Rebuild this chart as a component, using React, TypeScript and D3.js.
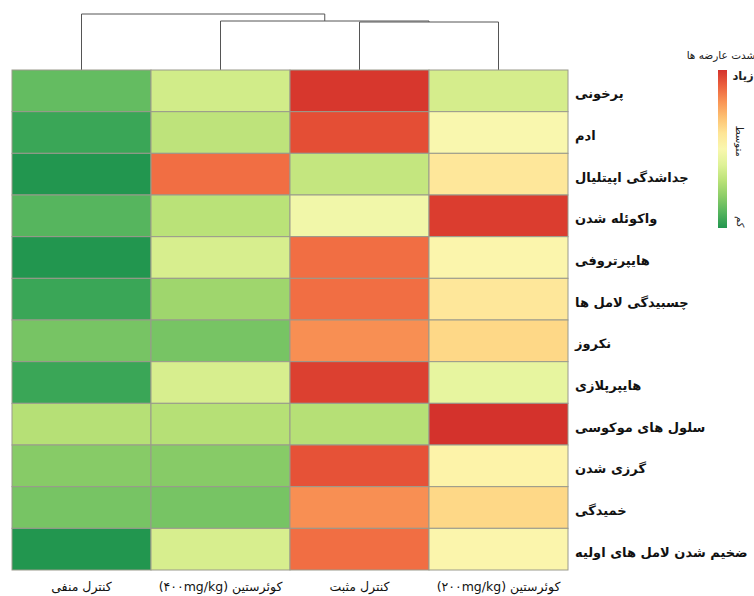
import React from 'react';
import * as d3 from 'd3';

// column / row labels
const colLabels = ['کنترل منفی', 'کوئرستین (۴۰۰mg/kg)', 'کنترل مثبت', 'کوئرستین (۲۰۰mg/kg)'];
const rowLabels = [
    'پرخونی',
    'ادم',
    'جداشدگی اپیتلیال',
    'واکوئله شدن',
    'هایپرتروفی',
    'چسبیدگی لامل ها',
    'نکروز',
    'هایپرپلازی',
    'سلول های موکوسی',
    'گرزی شدن',
    'خمیدگی',
    'ضخیم شدن لامل های اولیه',
];

// severity per column (0 = کم, 1 = زیاد), same order as rowLabels
const negControl = [0.125, 0.05, 0.0, 0.1, 0.0, 0.05, 0.16, 0.05, 0.29, 0.19, 0.16, 0.0];
const quercetin400 = [0.36, 0.31, 0.875, 0.3, 0.375, 0.24, 0.16, 0.375, 0.29, 0.19, 0.16, 0.375];
const posControl = [0.99, 0.94, 0.325, 0.46, 0.875, 0.875, 0.81, 0.97, 0.29, 0.93, 0.81, 0.875];
const quercetin200 = [0.37, 0.5, 0.59, 0.975, 0.525, 0.59, 0.64, 0.425, 1.0, 0.54, 0.64, 0.525];

// dendrogram merge heights: (col3,col4), (col2,[3,4]), (col1,rest)
const mergeHeights = [4.8, 4.9, 5.6];

const legendTitle = 'شدت عارضه ها';
const legendLabels = ['زیاد', 'متوسط', 'کم'];

const W = 754;
const H = 596;
const AR = 'DejaVu Sans, sans-serif';

export default function App() {
    const columns = [negControl, quercetin400, posControl, quercetin200];

    const x = d3.scaleBand<number>().domain(d3.range(colLabels.length)).range([12, 568]);
    const y = d3.scaleBand<number>().domain(d3.range(rowLabels.length)).range([70, 570]);
    const color = (v: number) => d3.interpolateRdYlGn(0.9 - 0.8 * v);
    const hy = d3.scaleLinear().domain([0, mergeHeights[2]]).range([70, 14]);

    const cx = (i: number) => x(i)! + x.bandwidth() / 2;

    // dendrogram segments
    const c34 = (cx(2) + cx(3)) / 2;
    const c234 = (cx(1) + c34) / 2;
    const links = [
        // (3,4)
        { pts: [[cx(2), hy(0)], [cx(2), hy(mergeHeights[0])], [cx(3), hy(mergeHeights[0])], [cx(3), hy(0)]] },
        // (2,(3,4))
        { pts: [[cx(1), hy(0)], [cx(1), hy(mergeHeights[1])], [c34, hy(mergeHeights[1])], [c34, hy(mergeHeights[0])]] },
        // (1,(2,3,4))
        { pts: [[cx(0), hy(0)], [cx(0), hy(mergeHeights[2])], [c234, hy(mergeHeights[2])], [c234, hy(mergeHeights[1])]] },
    ];
    const line = d3.line();

    // legend bar
    const ly = d3.scaleLinear().domain([1, 0]).range([70, 228]);
    const stops = d3.range(0, 1.0001, 0.1);

    return (
        <svg width={W} height={H} style={{ position: 'absolute', left: 0, top: 0, background: '#fff' }}>
            <defs>
                <linearGradient id="legendGrad" x1="0" y1="0" x2="0" y2="1">
                    {stops.map(s => (
                        <stop key={s} offset={`${s * 100}%`} stopColor={color(1 - s)} />
                    ))}
                </linearGradient>
            </defs>

            {links.map((l, i) => (
                <path key={i} d={line(l.pts as [number, number][])!} fill="none" stroke="#555" strokeWidth={1} />
            ))}

            {columns.map((col, ci) =>
                col.map((v, ri) => (
                    <rect
                        key={`${ci}-${ri}`}
                        x={x(ci)}
                        y={y(ri)}
                        width={x.bandwidth()}
                        height={y.bandwidth()}
                        fill={color(v)}
                        stroke="#9a9a8c"
                        strokeWidth={1}
                    />
                ))
            )}

            {rowLabels.map((r, i) => (
                <text
                    key={r}
                    x={575}
                    y={y(i)! + y.bandwidth() / 2 + 4}
                    dominantBaseline="middle"
                    textAnchor="start"
                    fontFamily={AR}
                    fontWeight="bold"
                    fontSize={13}
                    fill="#111"
                >
                    {r}
                </text>
            ))}

            {colLabels.map((c, i) => (
                <text
                    key={c}
                    x={cx(i)}
                    y={587}
                    dominantBaseline="middle"
                    textAnchor="middle"
                    direction="rtl"
                    fontFamily={AR}
                    fontSize={12.5}
                    fill="#111"
                >
                    {c}
                </text>
            ))}

            <text x={721} y={56} textAnchor="middle" dominantBaseline="middle" fontFamily={AR} fontSize={10.5} fill="#222">
                {legendTitle}
            </text>
            <rect x={718} y={ly(1)} width={9} height={ly(0) - ly(1)} fill="url(#legendGrad)" />
            <text x={743} y={ly(0.96)} textAnchor="middle" dominantBaseline="middle" fontFamily={AR} fontWeight="bold" fontSize={11.5} fill="#222">
                {legendLabels[0]}
            </text>
            <text transform={`translate(739,${ly(0.55)}) rotate(90)`} textAnchor="middle" dominantBaseline="middle" fontFamily={AR} fontSize={10} fill="#222">
                {legendLabels[1]}
            </text>
            <text transform={`translate(740,${ly(0.04)}) rotate(90)`} textAnchor="middle" dominantBaseline="middle" fontFamily={AR} fontSize={10} fill="#222">
                {legendLabels[2]}
            </text>
        </svg>
    );
}
